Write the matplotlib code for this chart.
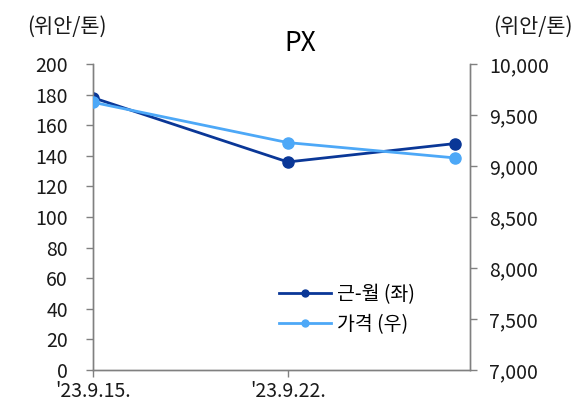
import matplotlib
matplotlib.use("Agg")
import matplotlib.pyplot as plt
from matplotlib.lines import Line2D
from matplotlib.ticker import FuncFormatter

plt.rcParams["font.family"] = ["Noto Sans CJK KR", "DejaVu Sans"]

# days since '23.9.15.
days = [0, 7, 13]
tick_days = [0, 7]
tick_labels = ["'23.9.15.", "'23.9.22."]

spread = [178, 136, 148]        # 근-월 (좌)
price = [9625, 9230, 9080]      # 가격 (우)

dark = "#0a3797"
light = "#4da8f7"
grey = "#808080"
txt = "#1a1a1a"

fig = plt.figure(figsize=(5.78, 4.03), dpi=100)
ax = fig.add_axes([0.161, 0.082, 0.652, 0.759])
ax2 = ax.twinx()

ax.plot(days, spread, color=dark, lw=2.0, marker="o", ms=8, zorder=3)
ax2.plot(days, price, color=light, lw=2.0, marker="o", ms=8, zorder=3)

ax.set_xlim(0, 13.55)
ax.set_ylim(0, 200)
ax.set_yticks(range(0, 201, 20))
ax2.set_ylim(7000, 10000)
ax2.set_yticks(range(7000, 10001, 500))
ax2.yaxis.set_major_formatter(FuncFormatter(lambda v, p: f"{v:,.0f}"))

ax.set_xticks(tick_days)
ax.set_xticklabels(tick_labels)

for a in (ax, ax2):
    a.spines["top"].set_visible(False)
    for s in ("left", "right", "bottom"):
        a.spines[s].set_color(grey)
        a.spines[s].set_linewidth(1.0)
    a.tick_params(axis="both", colors=grey, labelcolor=txt,
                  labelsize=14, length=5, width=1.0, direction="out")
ax.tick_params(axis="y", pad=13)
ax2.tick_params(axis="y", pad=9)
ax.tick_params(axis="x", pad=3)

fig.text(0.047, 0.933, "(위안/톤)", fontsize=15, color=txt, va="center")
fig.text(0.853, 0.933, "(위안/톤)", fontsize=15, color=txt, va="center")
fig.text(0.519, 0.893, "PX", fontsize=19, color="#000000", ha="center", va="center")

handles = [
    Line2D([], [], color=dark, lw=2.0, marker="o", ms=5),
    Line2D([], [], color=light, lw=2.0, marker="o", ms=5),
]
ax2.legend(handles, ["근-월 (좌)", "가격 (우)"], loc="lower right",
           bbox_to_anchor=(0.89, 0.07), frameon=False, fontsize=14,
           handlelength=2.7, handletextpad=0.3, labelspacing=0.45,
           borderpad=0.2)

fig.savefig("out.png", dpi=100)
